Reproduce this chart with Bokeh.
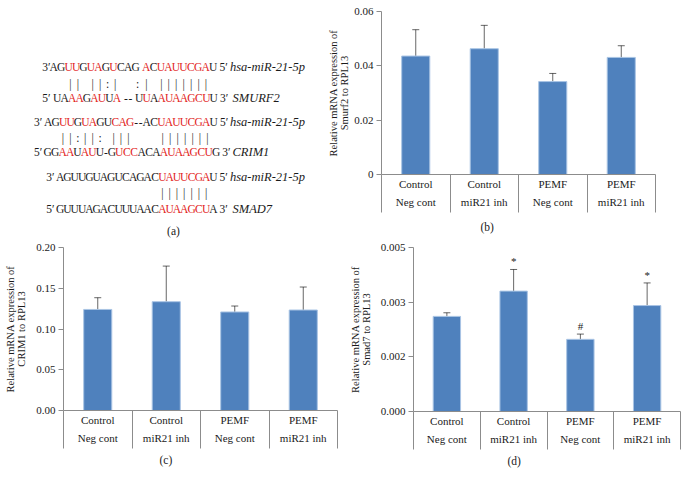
from bokeh.plotting import figure
from bokeh.models import (Range1d, FixedTicker, CustomJSTickFormatter, ColumnDataSource,
                          Whisker, TeeHead, Title)
from bokeh.layouts import row, column
from bokeh.core.properties import value
from bokeh.embed import file_html
from bokeh.resources import INLINE

SERIF = "Liberation Serif"
BAR_FILL = "#4F81BD"
BAR_EDGE = "#A9C4E4"
AXIS_GRAY = "#8C8C8C"
TXT = "#1A1A1A"
RED = "#E2231A"

# ---------------- data ----------------
groups = ["Control", "Control", "PEMF", "PEMF"]
treatments = ["Neg cont", "miR21 inh", "Neg cont", "miR21 inh"]
x_pos = [0.5, 1.5, 2.5, 3.5]
x_bounds = [0, 1, 2, 3, 4]

smurf2_mean = [0.0436, 0.0463, 0.0342, 0.0431]
smurf2_hi = [0.0533, 0.0549, 0.0372, 0.0474]
smurf2_lo = [0.0339, 0.0378, 0.0312, 0.0392]
smurf2_ticks = [0, 0.02, 0.04, 0.06]

crim1_mean = [0.1240, 0.1335, 0.1209, 0.1233]
crim1_hi = [0.1384, 0.1772, 0.1282, 0.1515]
crim1_lo = [0.1106, 0.0902, 0.1147, 0.0955]
crim1_ticks = [0, 0.05, 0.10, 0.15, 0.20]

smad7_mean = [0.00290, 0.00367, 0.00220, 0.00323]
smad7_hi = [0.00301, 0.00433, 0.00236, 0.00392]
smad7_lo = [0.00279, 0.00301, 0.00205, 0.00253]
smad7_ticks = [0, 0.0016667, 0.0033333, 0.005]
smad7_marks = ["", "*", "#", "*"]

# sequence alignment panel (a)
mir_name = "hsa-miR-21-5p"
mir_smurf2 = "AGUUGUAGUCAG ACUAUUCGAU"
tgt_smurf2 = "UAAAGAUUA -- UUAAUAAGCUU"
pair_smurf2 = "  || ||:|  :| ||||||| "
mir_smurf2_red = "0011011010001011111110"
tgt_smurf2_red = "0011011010001011111110"

mir_crim1 = "AGUUGUAGUCAG--ACUAUUCGAU"
tgt_crim1 = "GGAAUAUU-GUCCACAAUAAGCUG"
pair_crim1 = "  ||:||: |||    ||||||| "
mir_crim1_red = "001101100111000011111110"
tgt_crim1_red = "001101100011100011111110"

mir_smad7 = "AGUUGUAGUCAGACUAUUCGAU"
tgt_smad7 = "GUUUAGACUUUAACAUAAGCUA"
pair_smad7 = "              ||||||| "
mir_smad7_red = "0000000000000011111110"
tgt_smad7_red = "0000000000000011111110"

target_names = ["SMURF2", "CRIM1", "SMAD7"]


# ---------------- panel (a) ----------------
def panel_a():
    p = figure(width=318, height=240, x_range=Range1d(0, 318), y_range=Range1d(240, 0),
               output_backend="svg", toolbar_location=None, min_border=0,
               x_axis_location=None, y_axis_location=None)
    p.frame_align = False
    p.outline_line_color = None
    p.grid.visible = False

    letters = dict(x=[], y=[], t=[], c=[])
    bars = dict(x=[], y=[], t=[])
    primes = dict(x=[], y=[], t=[])
    names = dict(x=[], y=[], t=[])

    def place(seq, mask, x0, y, step):
        adv = {"-": 4.5, " ": 3.0}
        centers = []
        x = x0
        k = 0
        for ch in seq:
            a = adv.get(ch, step)
            if ch != " ":
                letters["x"].append(x + a / 2)
                letters["y"].append(y)
                letters["t"].append(ch)
                letters["c"].append(RED if mask[k] == "1" else TXT)
                centers.append(x + a / 2)
                k += 1
            x += a
        return centers, x

    blocks = [
        (mir_smurf2, mir_smurf2_red, tgt_smurf2, tgt_smurf2_red, pair_smurf2,
         41.7, 49.5, 53.0, 7.45, (66.7, 83.3, 97.7)),
        (mir_crim1, mir_crim1_red, tgt_crim1, tgt_crim1_red, pair_crim1,
         33.5, 44.0, 43.5, 7.45, (121.0, 137.3, 151.7)),
        (mir_smad7, mir_smad7_red, tgt_smad7, tgt_smad7_red, pair_smad7,
         45.7, 56.0, 56.0, 7.3, (176.7, 192.7, 208.3)),
    ]
    for i, (ms, mr, ts, tr, pr, px, mx0, tx0, step, (y1, yb, y2)) in enumerate(blocks):
        mc, mend = place(ms, mr, mx0, y1, step)
        tc, tend = place(ts, tr, tx0, y2, step)
        for k, ch in enumerate(pr):
            if ch != " ":
                bars["x"].append((mc[k] + tc[k]) / 2)
                bars["y"].append(yb)
                bars["t"].append(ch)
        primes["x"] += [px, px, mend + 2.5, tend + 2.5]
        primes["y"] += [y1, y2, y1, y2]
        primes["t"] += ["3\u2032", "5\u2032", "5\u2032", "3\u2032"]
        names["x"] += [229.5, 232]
        names["y"] += [y1, y2]
        names["t"] += [mir_name, target_names[i]]

    common = dict(x="x", y="y", text="t", text_font=value(SERIF), text_baseline="middle")
    p.text(source=ColumnDataSource(letters), text_color="c", text_align="center",
           text_font_size="11.5px", **common)
    p.text(source=ColumnDataSource(bars), text_color=TXT, text_align="center",
           text_font_size="11.5px", **common)
    p.text(source=ColumnDataSource(primes), text_color=TXT, text_align="left",
           text_font_size="11.5px", **common)
    p.text(source=ColumnDataSource(names), text_color=TXT, text_align="left",
           text_font_style="italic", text_font_size="12.5px", **common)
    p.text(x=[173], y=[230], text=["(a)"], text_color=TXT, text_font=value(SERIF),
           text_font_size="11.5px", text_align="center", text_baseline="middle")
    return p


# ---------------- bar panels ----------------
def bar_panel(mean, lo, hi, ticks, ymax, fmt, ylabel, tag, tag_offset, tag_standoff,
              label_standoff, w, h, bl, br, bt, bb, marks=None):
    p = figure(width=w, height=h, x_range=Range1d(0, 4), y_range=Range1d(0, ymax),
               output_backend="svg", toolbar_location=None,
               min_border_left=bl, min_border_right=br, min_border_top=bt,
               min_border_bottom=bb)
    p.frame_align = False
    p.outline_line_color = None
    p.grid.visible = False
    src = ColumnDataSource(dict(x=x_pos, top=mean, lo=lo, hi=hi))
    p.vbar(x="x", top="top", width=0.41, source=src, fill_color=BAR_FILL,
           line_color=BAR_EDGE, line_width=1)
    head = dict(size=7, line_color="black", line_alpha=0.6, line_width=1)
    p.add_layout(Whisker(base="x", upper="hi", lower="lo", source=src,
                         line_color="black", line_alpha=0.6, line_width=1,
                         upper_head=TeeHead(**head), lower_head=TeeHead(**head)))
    if marks is not None:
        p.text(x=x_pos, y=hi, text=marks, text_color=TXT, text_font=value(SERIF),
               text_font_size="11px", text_align="center", text_baseline="bottom",
               y_offset=-2)

    yax = p.yaxis[0]
    yax.ticker = FixedTicker(ticks=ticks)
    yax.formatter = CustomJSTickFormatter(code=fmt)
    yax.axis_line_color = AXIS_GRAY
    yax.major_tick_line_color = AXIS_GRAY
    yax.major_tick_out = 5
    yax.major_tick_in = 0
    yax.minor_tick_line_color = None
    yax.major_label_standoff = 3
    yax.major_label_text_font = SERIF
    yax.major_label_text_font_size = "11px"
    yax.major_label_text_color = TXT
    yax.axis_label = ylabel
    yax.axis_label_text_font = SERIF
    yax.axis_label_text_font_size = "10.5px"
    yax.axis_label_text_font_style = "normal"
    yax.axis_label_text_color = TXT
    yax.axis_label_text_line_height = 1.0
    yax.axis_label_standoff = label_standoff

    xax = p.xaxis[0]
    xax.ticker = FixedTicker(ticks=x_pos, minor_ticks=x_bounds)
    xax.major_label_overrides = {xp: f"{g}\n{t}" for xp, g, t in zip(x_pos, groups, treatments)}
    xax.axis_line_color = AXIS_GRAY
    xax.major_tick_line_color = None
    xax.major_tick_out = 0
    xax.major_tick_in = 0
    xax.minor_tick_line_color = AXIS_GRAY
    xax.minor_tick_out = 38
    xax.minor_tick_in = 0
    xax.major_label_standoff = -35
    xax.major_label_text_font = SERIF
    xax.major_label_text_font_size = "11px"
    xax.major_label_text_color = TXT
    xax.major_label_text_line_height = 1.5

    p.add_layout(Title(text=tag, align="left", offset=tag_offset, text_font=SERIF,
                       text_font_size="11.5px", text_font_style="normal",
                       text_color=TXT, standoff=tag_standoff), "below")
    return p


fmt2z = 'return tick == 0 ? "0" : tick.toFixed(2);'
fmt2 = 'return tick.toFixed(2);'
fmt3 = 'return tick.toFixed(3);'

pa = panel_a()
pb = bar_panel(smurf2_mean, smurf2_lo, smurf2_hi, smurf2_ticks, 0.06, fmt2z,
               "Relative mRNA expression of\nSmurf2 to RPL13", "(b)", 99, 16, 1,
               369, 240, 63, 32, 11, 66)
pc = bar_panel(crim1_mean, crim1_lo, crim1_hi, crim1_ticks, 0.20, fmt2,
               "Relative mRNA expression of\nCRIM1 to RPL13", "(c)", 96, 10, 6,
               340, 244, 63, 3, 7, 74)
pd_ = bar_panel(smad7_mean, smad7_lo, smad7_hi, smad7_ticks, 0.005, fmt3,
                "Relative mRNA expression of\nSmad7 to RPL13", "(d)", 94, 10, 6,
                347, 244, 73, 7, 7, 73, marks=smad7_marks)

layout = column(row(pa, pb, spacing=0), row(pc, pd_, spacing=0), spacing=0)
open("out.html", "w").write(file_html(layout, INLINE))
